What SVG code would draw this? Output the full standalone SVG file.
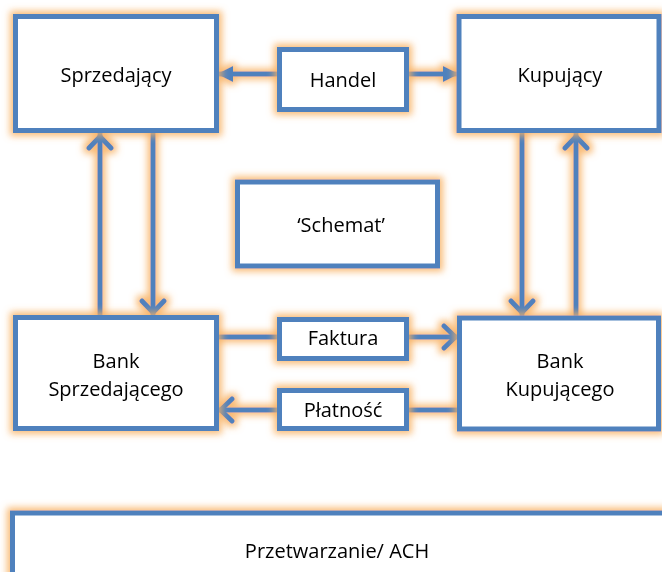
<svg xmlns="http://www.w3.org/2000/svg" width="662" height="572" viewBox="0 0 662 572">
<defs>
<filter id="glow" filterUnits="userSpaceOnUse" x="-50" y="-50" width="800" height="700">
<feMorphology in="SourceAlpha" operator="dilate" radius="3" result="d"/>
<feGaussianBlur in="d" stdDeviation="3.5" result="b"/>
<feFlood flood-color="#F8B060" flood-opacity="0.85"/>
<feComposite in2="b" operator="in" result="g"/>
<feMerge><feMergeNode in="g"/><feMergeNode in="SourceGraphic"/></feMerge>
</filter>
<marker id="tri" markerUnits="userSpaceOnUse" viewBox="-17 -9 18 18" refX="0" refY="0" markerWidth="18" markerHeight="18" orient="auto">
<path d="M0,0 L-16,-8 L-16,8 Z" fill="#4F81BD"/>
</marker>
<marker id="chev" markerUnits="userSpaceOnUse" viewBox="-20 -14 22 28" refX="0" refY="0" markerWidth="22" markerHeight="28" orient="auto">
<path d="M-15,-11 L-3.5,0 L-15,11" fill="none" stroke="#4F81BD" stroke-width="5" stroke-linecap="round" stroke-linejoin="round"/>
</marker>
</defs>
<style>
.box{fill:#fff;stroke:#4F81BD;stroke-width:5}
.ln{stroke:#4F81BD;stroke-width:5;fill:none}
.t{font-family:"Open Sans","Noto Sans",sans-serif;font-size:20px;fill:#000;text-anchor:middle}
</style>
<g id="connectors" filter="url(#glow)">
<line class="ln" x1="280" y1="74" x2="217" y2="74" marker-end="url(#tri)"/>
<line class="ln" x1="406" y1="74" x2="459" y2="74" marker-end="url(#tri)"/>
<line class="ln" x1="100" y1="317" x2="100" y2="133" marker-end="url(#chev)"/>
<line class="ln" x1="153" y1="131" x2="153" y2="316" marker-end="url(#chev)"/>
<line class="ln" x1="522" y1="131" x2="522" y2="316" marker-end="url(#chev)"/>
<line class="ln" x1="576" y1="317" x2="576" y2="133" marker-end="url(#chev)"/>
<line class="ln" x1="216" y1="337" x2="459" y2="337" marker-end="url(#chev)"/>
<line class="ln" x1="459" y1="410" x2="217" y2="410" marker-end="url(#chev)"/>
</g>
<g id="sprzedajacy" filter="url(#glow)">
<rect class="box" x="15.5" y="16.5" width="201" height="114"/>
<text class="t" x="116" y="82">Sprzedający</text>
</g>
<g id="handel" filter="url(#glow)">
<rect class="box" x="279.5" y="49.5" width="127" height="60"/>
<text class="t" x="343" y="87">Handel</text>
</g>
<g id="kupujacy" filter="url(#glow)">
<rect class="box" x="459" y="16.5" width="200" height="114"/>
<text class="t" x="560" y="82">Kupujący</text>
</g>
<g id="schemat" filter="url(#glow)">
<rect class="box" x="237.5" y="182" width="200" height="84"/>
<text class="t" x="341" y="232">‘Schemat’</text>
</g>
<g id="bank-sprzedajacego" filter="url(#glow)">
<rect class="box" x="15.5" y="317.5" width="201" height="111"/>
<text class="t" x="116" y="368">Bank</text>
<text class="t" x="116" y="396">Sprzedającego</text>
</g>
<g id="faktura" filter="url(#glow)">
<rect class="box" x="279.5" y="319.5" width="127" height="39"/>
<text class="t" x="343" y="345">Faktura</text>
</g>
<g id="platnosc" filter="url(#glow)">
<rect class="box" x="279.5" y="390.5" width="127" height="38"/>
<text class="t" x="343" y="417">Płatność</text>
</g>
<g id="bank-kupujacego" filter="url(#glow)">
<rect class="box" x="459.5" y="318" width="199" height="111"/>
<text class="t" x="560" y="368">Bank</text>
<text class="t" x="560" y="396">Kupującego</text>
</g>
<g id="przetwarzanie" filter="url(#glow)">
<rect class="box" x="12.5" y="513" width="670" height="90"/>
<text class="t" x="337" y="558">Przetwarzanie/ ACH</text>
</g>
</svg>
